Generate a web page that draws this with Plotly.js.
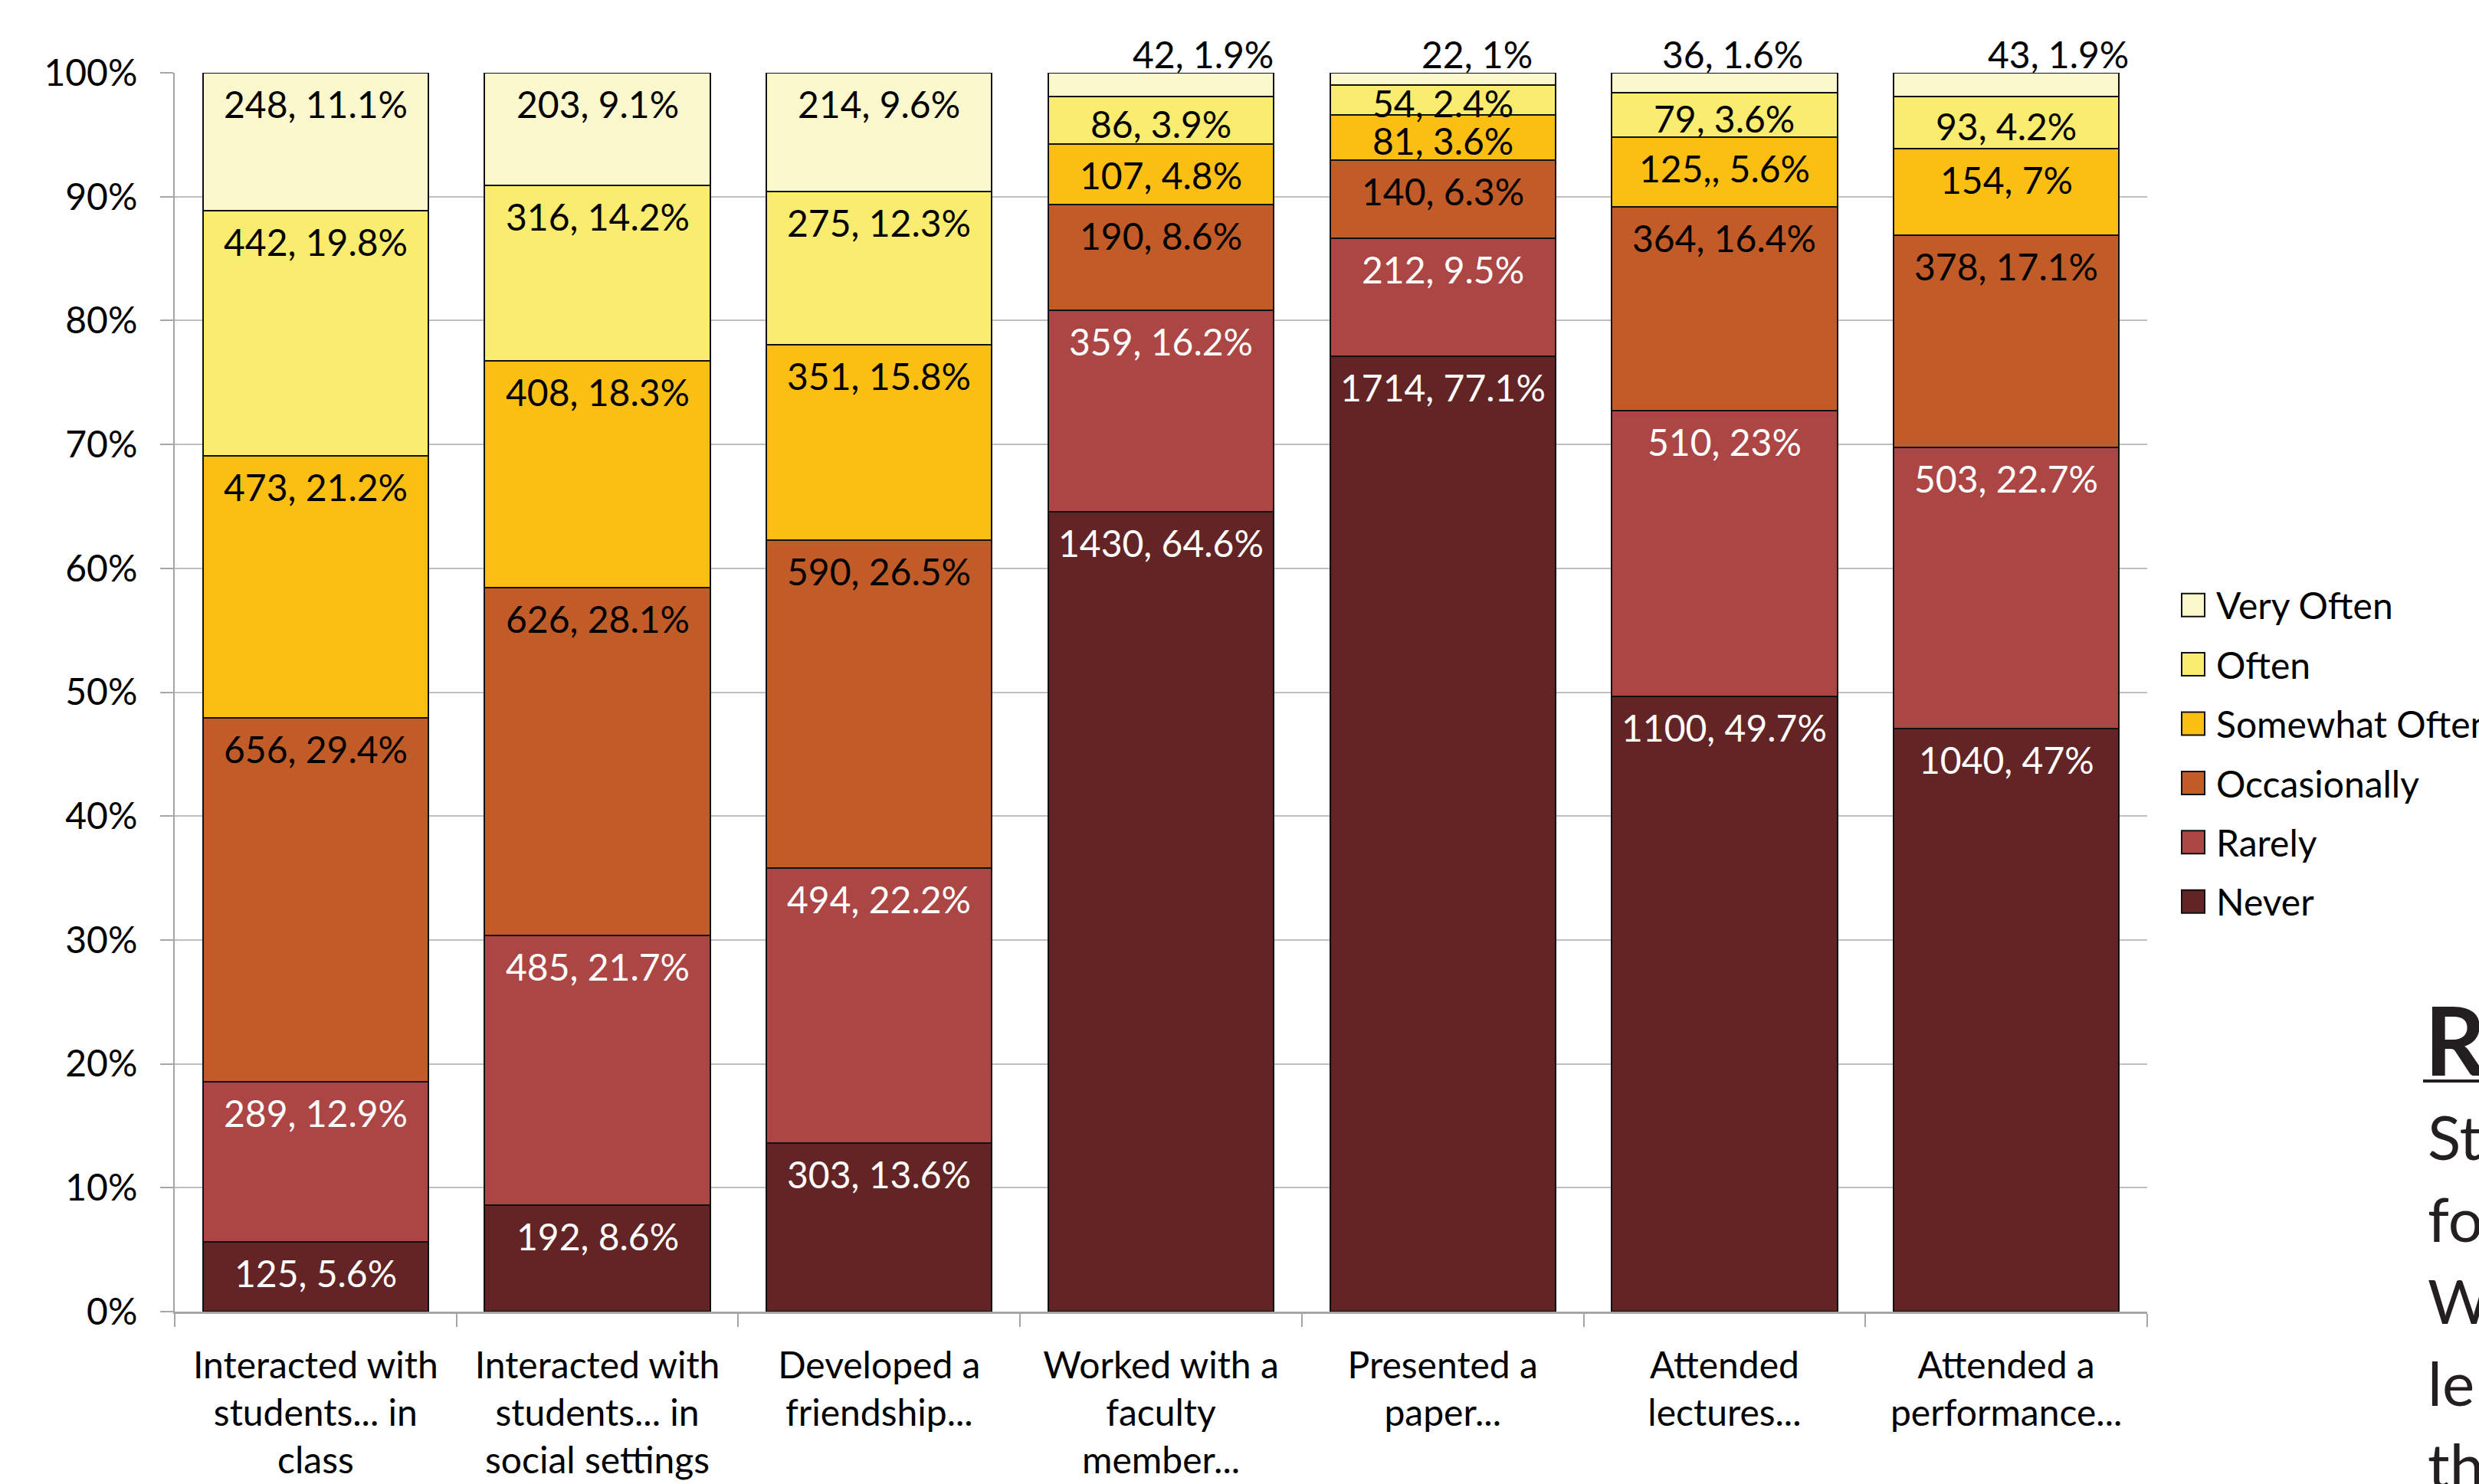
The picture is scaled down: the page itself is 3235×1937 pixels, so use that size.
<!DOCTYPE html>
<html><head><meta charset="utf-8">
<script src="https://cdn.plot.ly/plotly-3.0.1.min.js"></script>
<style>
html,body{margin:0;padding:0;background:#fff;overflow:hidden;}
#chart{width:3235px;height:1937px;}
</style></head><body><div id="chart"></div>
<script>
// ---- data ----
const categories = [
  "Interacted with<br>students... in<br>class",
  "Interacted with<br>students... in<br>social settings",
  "Developed a<br>friendship...",
  "Worked with a<br>faculty<br>member...",
  "Presented a<br>paper...",
  "Attended<br>lectures...",
  "Attended a<br>performance..."
];
const seriesNames = ["Never", "Rarely", "Occasionally", "Somewhat Often", "Often", "Very Often"];
const neverN        = [125, 192, 303, 1430, 1714, 1100, 1040];
const neverPct      = [5.6, 8.6, 13.6, 64.6, 77.1, 49.7, 47];
const rarelyN       = [289, 485, 494, 359, 212, 510, 503];
const rarelyPct     = [12.9, 21.7, 22.2, 16.2, 9.5, 23, 22.7];
const occasionN     = [656, 626, 590, 190, 140, 364, 378];
const occasionPct   = [29.4, 28.1, 26.5, 8.6, 6.3, 16.4, 17.1];
const somewhatN     = [473, 408, 351, 107, 81, 125, 154];
const somewhatPct   = [21.2, 18.3, 15.8, 4.8, 3.6, 5.6, 7];
const oftenN        = [442, 316, 275, 86, 54, 79, 93];
const oftenPct      = [19.8, 14.2, 12.3, 3.9, 2.4, 3.6, 4.2];
const veryOftenN    = [248, 203, 214, 42, 22, 36, 43];
const veryOftenPct  = [11.1, 9.1, 9.6, 1.9, 1, 1.6, 1.9];
// label text exactly as printed in the source (one label has a doubled comma)
const labelOverrides = {"Somewhat Often": {5: "125,, 5.6%"}};

// ---- styling ----
const colors = {
  "Never": "#632425", "Rarely": "#AB4645", "Occasionally": "#C15B27",
  "Somewhat Often": "#FBBF13", "Often": "#F9EC6E", "Very Often": "#FBF8CD"
};
const textColors = {
  "Never": "#ffffff", "Rarely": "#ffffff", "Occasionally": "#000000",
  "Somewhat Often": "#000000", "Often": "#000000", "Very Often": "#000000"
};
const FONT = "Lato, 'Open Sans', sans-serif";
const seriesData = [
  [neverN, neverPct], [rarelyN, rarelyPct], [occasionN, occasionPct],
  [somewhatN, somewhatPct], [oftenN, oftenPct], [veryOftenN, veryOftenPct]
];
// horizontal nudges (px) of the labels printed above the thinnest top segments
const aboveShift = [0, 0, 0, 55, 45, 11, 68];

const L = 228, R = 433, T = 95, B = 225, W = 3235, H = 1937;
const pw = W - L - R, ph = H - T - B;
const px = x => (x - L) / pw;
const py = y => (H - B - y) / ph;

// bars
const traces = seriesNames.map((name, s) => ({
  type: "bar", name: name, x: categories, y: seriesData[s][0],
  marker: {color: colors[name], line: {color: "#111111", width: 2}},
  legendgroup: name, legendrank: seriesNames.length - s, hoverinfo: "skip"
}));

// data labels, placed like the source's "inside end" labels (centred when the segment is thin)
const totals = categories.map((_, i) => seriesData.reduce((a, d) => a + d[0][i], 0));
const cum = totals.map(() => 0);
const labelAnn = [];
seriesNames.forEach((name, s) => {
  const [n, p] = seriesData[s];
  const ov = labelOverrides[name] || {};
  const isTop = s === seriesNames.length - 1;
  n.forEach((v, i) => {
    const bottom = cum[i] / totals[i] * 100;
    cum[i] += v;
    const top = cum[i] / totals[i] * 100;
    const text = ov[i] !== undefined ? ov[i] : (v + ", " + p[i] + "%");
    const segPx = (top - bottom) / 100 * ph;
    const base = {text: text, x: categories[i], xref: "x", yref: "y", showarrow: false,
      xanchor: "center", font: {family: FONT, size: 48, color: textColors[name]}};
    if (isTop && p[i] < 5) {
      labelAnn.push(Object.assign(base, {y: top, yanchor: "bottom", yshift: -6,
        xshift: aboveShift[i], font: {family: FONT, size: 48, color: "#000000"}}));
    } else if (segPx < 70) {
      labelAnn.push(Object.assign(base, {y: (top + bottom) / 2, yanchor: "middle", yshift: -4}));
    } else {
      labelAnn.push(Object.assign(base, {y: top, yanchor: "top", yshift: -10}));
    }
  });
});

const sideText = ["St", "fo", "W", "le", "th"];
const sideAnn = sideText.map((t, i) => ({
  text: t, xref: "paper", yref: "paper", x: px(3166), y: py(1533 + i * 107),
  xanchor: "left", yanchor: "bottom", showarrow: false, align: "left",
  font: {family: FONT, size: 80, color: "#231F20"}
}));
sideAnn.push({
  text: "<b>R</b>", xref: "paper", yref: "paper", x: px(3162), y: py(1432),
  xanchor: "left", yanchor: "bottom", showarrow: false,
  font: {family: FONT, size: 124, color: "#231F20"}
});

const layout = {
  width: W, height: H,
  margin: {l: L, r: R, t: T, b: B, pad: 0, autoexpand: false},
  paper_bgcolor: "#ffffff", plot_bgcolor: "#ffffff",
  barmode: "stack", barnorm: "percent", bargap: 0.2,
  font: {family: FONT, size: 48, color: "#000000"},
  showlegend: true,
  xaxis: {
    type: "category", showline: true, linecolor: "#A6A6A6", linewidth: 3,
    ticks: "outside", tickson: "boundaries", ticklen: 17, tickcolor: "#A6A6A6", tickwidth: 2,
    showgrid: false, tickfont: {family: FONT, size: 48, color: "#000000"}, ticklabelstandoff: 26
  },
  yaxis: {
    range: [0, 100], tick0: 0, dtick: 10, ticksuffix: "%", showline: true,
    linecolor: "#A6A6A6", linewidth: 2, ticks: "outside", ticklen: 17,
    tickcolor: "#A6A6A6", tickwidth: 2, gridcolor: "#BFBFBF", gridwidth: 2,
    zeroline: false, tickfont: {family: FONT, size: 48, color: "#000000"}, ticklabelstandoff: 20
  },
  legend: {
    x: px(2842), y: py(752), xanchor: "left", yanchor: "top",
    traceorder: "grouped", tracegroupgap: 12,
    font: {family: FONT, size: 48, color: "#000000"}, bgcolor: "rgba(0,0,0,0)"
  },
  shapes: [{
    type: "line", xref: "paper", yref: "paper",
    x0: px(3162), x1: px(3260), y0: py(1411), y1: py(1411),
    line: {color: "#231F20", width: 4}
  }],
  annotations: labelAnn.concat(sideAnn)
};

Plotly.newPlot("chart", traces, layout, {staticPlot: true, displayModeBar: false}).then(gd => {
  // enlarge the legend swatches to the source's 30px squares, with the source's gap before the text
  gd.querySelectorAll(".legend .legendpoints path").forEach(p => {
    p.setAttribute("d", "M15,15H-15V-15H15Z");
    p.style.strokeWidth = "2px";
  });
  gd.querySelectorAll(".legend text.legendtext").forEach(t => {
    const x = parseFloat(t.getAttribute("x") || "0");
    t.setAttribute("x", x + 10);
  });
});
</script></body></html>
